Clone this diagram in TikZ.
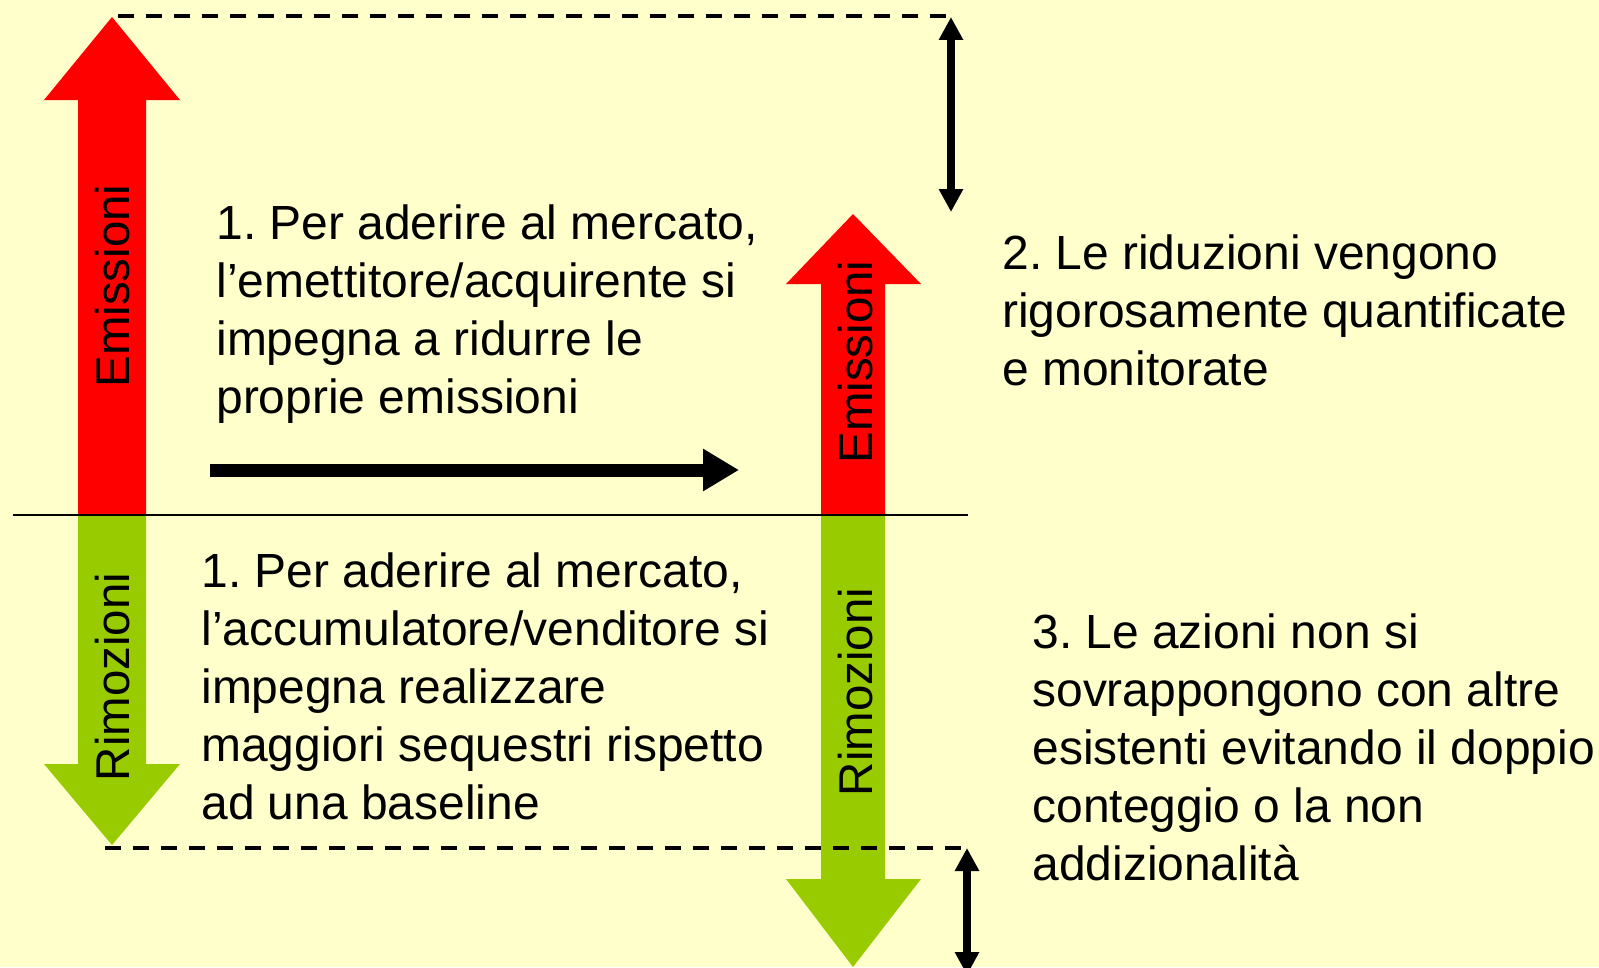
\documentclass[tikz,border=0pt]{standalone}
\usepackage{fontspec}
\setmainfont{Liberation Sans}
\usetikzlibrary{arrows.meta}
\definecolor{bgyellow}{RGB}{255,255,204}
\definecolor{emired}{RGB}{255,0,0}
\definecolor{remgreen}{RGB}{153,204,0}
\frenchspacing

\begin{document}
\begin{tikzpicture}[x=0.02cm, y=-0.02cm,
    txt/.style={anchor=west, align=left, inner sep=0pt, font=\fontsize{27.3}{33}\selectfont},
    vlabel/.style={rotate=90, inner sep=0pt, font=\fontsize{27}{31}\selectfont},
    guide/.style={black, line width=2.3pt, dash pattern=on 0.32cm off 0.24cm},
    span/.style={black, line width=4.5pt, {Triangle[length=0.46cm,width=0.46cm]}-{Triangle[length=0.46cm,width=0.46cm]}}]

            % background
            \fill[bgyellow] (0,0) rectangle (1599,967);
            \useasboundingbox (0,0) rectangle (1599,967);

            % big arrows
            \fill[emired] (78,515) -- (78,100) -- (44,100) -- (112,17) -- (180,100) -- (146,100) -- (146,515) -- cycle;
            \fill[remgreen] (78,515) -- (78,764) -- (44,764) -- (112,845) -- (180,764) -- (146,764) -- (146,515) -- cycle;
            \fill[emired] (821,515) -- (821,284) -- (786,284) -- (853,214) -- (921,284) -- (885,284) -- (885,515) -- cycle;
            \fill[remgreen] (821,515) -- (821,879) -- (786,879) -- (853,967) -- (921,879) -- (885,879) -- (885,515) -- cycle;

            % baseline
            \coordinate (baseL) at (13,515);
            \coordinate (baseR) at (968,515);
            \draw[black, line width=0.8pt] (baseL) -- (baseR);

            % dashed guides
            \coordinate (topL) at (118,16);
            \coordinate (topR) at (948,16);
            \coordinate (botL) at (105,848);
            \coordinate (botR) at (962,848);
            \draw[guide] (topL) -- (topR);
            \draw[guide] (botL) -- (botR);

            % spans
            \coordinate (spanTa) at (951,17);
            \coordinate (spanTb) at (951,212);
            \coordinate (spanBa) at (967,848);
            \coordinate (spanBb) at (967,975);
            \draw[span] (spanTa) -- (spanTb);
            \draw[span] (spanBa) -- (spanBb);

            % shift arrow
            \coordinate (shiftA) at (210,470);
            \coordinate (shiftB) at (739,470);
            \draw[black, line width=7.4pt, -{Triangle[length=0.72cm,width=0.8cm]}] (shiftA) -- (shiftB);

            % labels
            \node[vlabel] (emiL) at (113,286) {Emissioni};
            \node[vlabel] (remL) at (113,677) {Rimozioni};
            \node[vlabel] (emiR) at (856,362) {Emissioni};
            \node[vlabel] (remR) at (856,692) {Rimozioni};

            \node[txt] (buyer) at (216,314) {1. Per aderire al mercato,\\l’emettitore/acquirente si\\impegna a ridurre le\\proprie emissioni};
            \node[txt] (seller) at (201,686) {1. Per aderire al mercato,\\l’accumulatore/venditore si\\impegna realizzare\\maggiori sequestri rispetto\\ad una baseline};
            \node[txt] (quant) at (1002,310) {2. Le riduzioni vengono\\rigorosamente quantificate\\e monitorate};
            \node[txt] (addit) at (1032,747) {3. Le azioni non si\\sovrappongono con altre\\esistenti evitando il doppio\\conteggio o la non\\addizionalità};
        \end{tikzpicture}
\end{document}
